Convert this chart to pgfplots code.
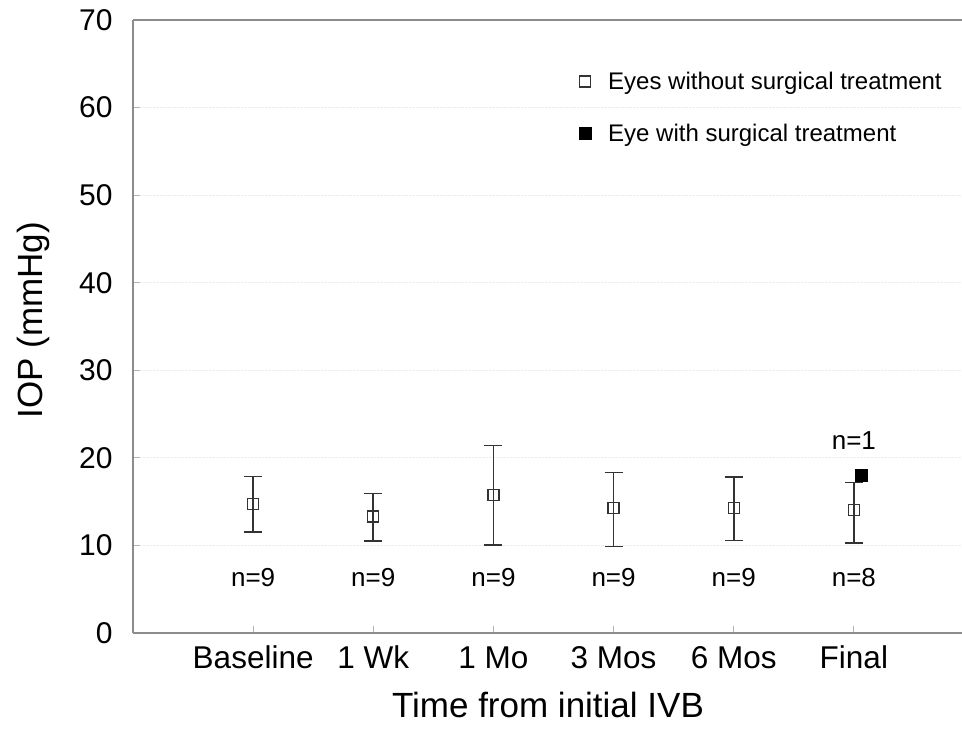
\documentclass[border=0pt]{standalone}
\usepackage{pgfplots}
\usepackage{pgfplotstable}
\pgfplotsset{compat=1.18}
\usepackage{fontspec}
\setmainfont{Liberation Sans}

\pgfplotstableread{
x y ep em
0 14.7 3.15 3.2
1 13.3 2.65 2.8
2 15.8 5.6 5.75
3 14.24 4.1 4.38
4 14.24 3.6 3.7
5 14.05 3.15 3.75
}\noSurg

\pgfplotstableread{
x y
5.06 18.0
}\withSurg

\begin{document}
\begin{tikzpicture}[x=1pt,y=1pt]
\begin{axis}[
  at={(133pt,108pt)}, anchor=south west,
  scale only axis, width=829pt, height=613pt,
  xmin=-1, xmax=5.9, ymin=0, ymax=70,
  axis lines*=left,
  axis line style={draw=black!45, line width=1.2pt},
  xtick={0,1,2,3,4,5},
  xticklabels={Baseline,1 Wk,1 Mo,3 Mos,6 Mos,Final},
  ytick={0,10,20,30,40,50,60,70},
  tick style={draw=black!30, line width=0.8pt},
  tick align=inside, major tick length=7pt,
  ymajorgrids, grid style={draw=black!7, densely dotted, line width=0.8pt},
  tick label style={font=\fontsize{30}{30}\selectfont},
  /pgf/number format/assume math mode=true,
  xticklabel style={font=\fontsize{31.5}{31.5}\selectfont, anchor=base, yshift=-36pt},
  yticklabel style={xshift=-17pt},
  xlabel={Time from initial IVB},
  ylabel={IOP (mmHg)},
  label style={font=\fontsize{35}{35}\selectfont},
  xlabel style={at={(axis description cs:0.5006,-0.1175)}, anchor=center},
  ylabel style={at={(axis description cs:-0.120,0.51)}, anchor=center},
  legend style={at={(axis description cs:0.538,0.917)}, anchor=north west, draw=none, fill=none,
     font=\fontsize{24}{24}\selectfont, row sep=31pt, inner sep=0pt, nodes={inner sep=1pt}},
  legend image code/.code={\path[draw=none,fill=none] (0pt,-5pt) rectangle (27pt,5pt); \draw[#1] plot coordinates {(5pt,0pt)};},
  legend cell align=left,
  clip=false,
]
\addplot[only marks, mark=square, mark size=5.5pt, mark options={draw=black!80, line width=1.2pt, fill=white},
  error bars/.cd, y dir=both, y explicit,
  error bar style={draw=black!80, line width=1.6pt},
  error mark options={rotate=90, mark size=9pt, line width=1.6pt, draw=black!80}]
  table[x=x, y=y, y error plus=ep, y error minus=em] {\noSurg};
\addlegendentry{Eyes without surgical treatment}
\addplot[only marks, mark=square*, mark size=6pt, mark options={draw=black, fill=black}]
  table[x=x, y=y] {\withSurg};
\addlegendentry{Eye with surgical treatment}
\draw[black!45, line width=1.2pt] (rel axis cs:0,1) -- (rel axis cs:1,1);
\node[font=\fontsize{26}{26}\selectfont] at (axis cs:0,6.3) {n=9};
\node[font=\fontsize{26}{26}\selectfont] at (axis cs:1,6.3) {n=9};
\node[font=\fontsize{26}{26}\selectfont] at (axis cs:2,6.3) {n=9};
\node[font=\fontsize{26}{26}\selectfont] at (axis cs:3,6.3) {n=9};
\node[font=\fontsize{26}{26}\selectfont] at (axis cs:4,6.3) {n=9};
\node[font=\fontsize{26}{26}\selectfont] at (axis cs:5,6.3) {n=8};
\node[font=\fontsize{26}{26}\selectfont] at (axis cs:5,22.0) {n=1};
\end{axis}
\pgfresetboundingbox
\useasboundingbox (0,0) rectangle (962pt,741pt);
\end{tikzpicture}
\end{document}
